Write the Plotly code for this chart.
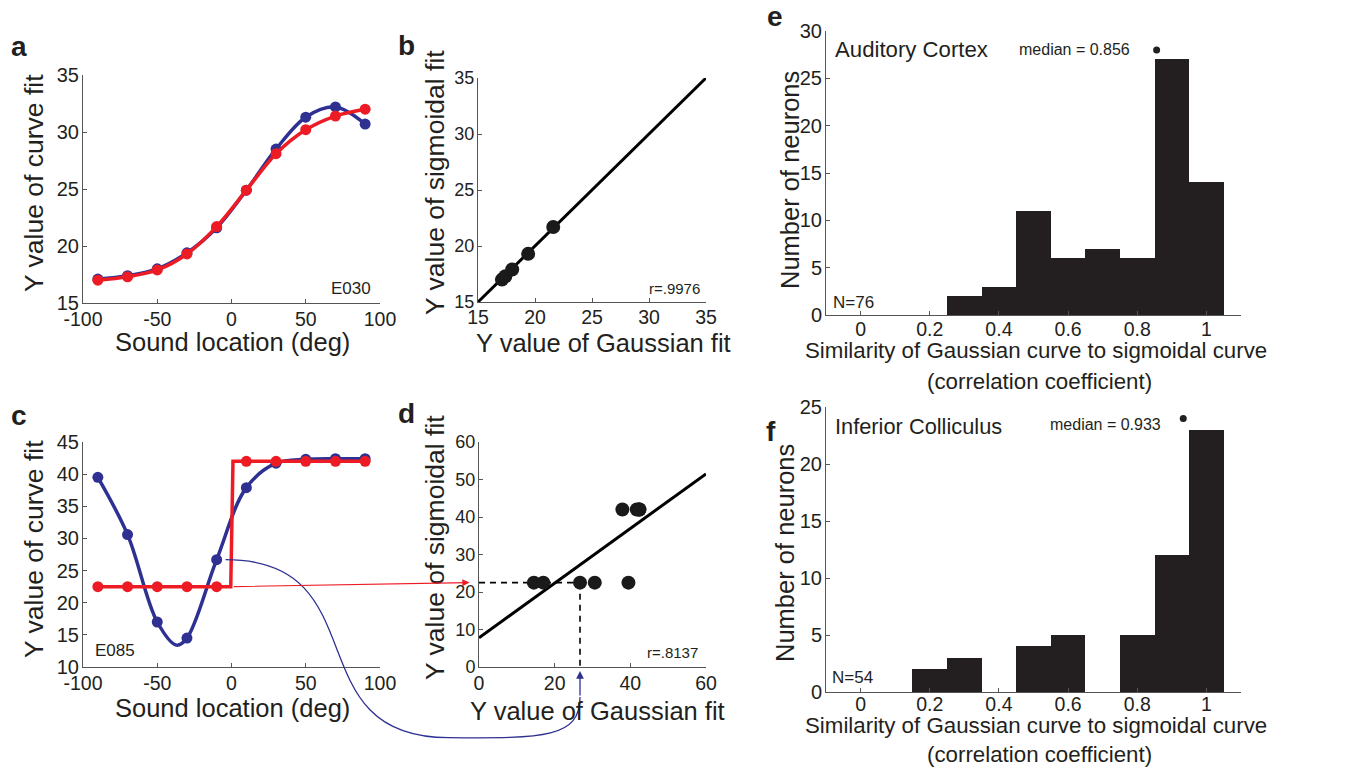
import plotly.graph_objects as go

W, H = 1366, 767
FONT = "Liberation Sans, Arial, Helvetica, sans-serif"
INK = "#231F20"
BLUE = "#2E3192"
RED = "#ED1C24"
AXIS = "#555555"

# ---------------- data ----------------
azimuth = [-90, -70, -50, -30, -10, 10, 30, 50, 70, 90]

# neuron E030: Gaussian and sigmoid fit values at each tested location
e030_gauss = [17.1, 17.4, 18.0, 19.4, 21.6, 24.9, 28.5, 31.3, 32.2, 30.7]
e030_sigm = [17.0, 17.3, 17.9, 19.3, 21.7, 24.9, 28.1, 30.2, 31.4, 32.0]
e030_shown = 5  # points plotted in the correlation scatter
e030_line_x = [15, 35]
e030_line_y = [15, 35]
e030_r = "r=.9976"

# neuron E085
e085_gauss = [39.5, 30.6, 17.0, 14.5, 26.7, 37.9, 41.7, 42.3, 42.4, 42.4]
e085_sigm = [22.5, 22.5, 22.5, 22.5, 22.5, 42.0, 42.0, 42.0, 42.0, 42.0]
e085_gauss_curve_x = [-90, -70, -50, -37, -30, -10, 10, 30, 50, 70, 90]
e085_gauss_curve_y = [39.5, 30.6, 17.0, 13.4, 14.5, 26.7, 37.9, 41.7, 42.3, 42.4, 42.4]
e085_sigm_curve_x = [-90, -0.5, 1.0, 90]
e085_sigm_curve_y = [22.5, 22.5, 42.0, 42.0]
e085_line_x = [0, 60]
e085_line_y = [7.8, 51.5]
e085_r = "r=.8137"
e085_example = 4  # index of the location traced between panels c and d

# population histograms of Gaussian-vs-sigmoid correlation
bin_centers = [0.0, 0.1, 0.2, 0.3, 0.4, 0.5, 0.6, 0.7, 0.8, 0.9, 1.0]
ac_counts = [0, 0, 0, 2, 3, 11, 6, 7, 6, 27, 14]
ic_counts = [0, 0, 2, 3, 0, 4, 5, 0, 5, 12, 23]
ac_median, ac_median_mark = 0.856, 28
ic_median, ic_median_mark = 0.933, 24
ac_n, ic_n = 76, 54

# ---------------- panel geometry (pixel boxes) ----------------
boxes = {
    "a": (83, 380, 75, 303),
    "b": (478, 706, 78, 302),
    "c": (83, 380, 442, 667),
    "d": (479, 706, 442, 667),
    "e": (826, 1241, 31, 315),
    "f": (826, 1241, 407, 692),
}
ranges = {
    "a": ([-100, 100], [15, 35]),
    "b": ([15, 35], [15, 35]),
    "c": ([-100, 100], [10, 45]),
    "d": ([0, 60], [0, 60]),
    "e": ([-0.1, 1.1], [0, 30]),
    "f": ([-0.1, 1.1], [0, 25]),
}
ids = {"a": "", "b": "2", "c": "3", "d": "4", "e": "5", "f": "6"}


def to_px(p, x, y):
    """Data coordinates of panel p -> page pixels."""
    x0, x1, y0, y1 = boxes[p]
    (rx0, rx1), (ry0, ry1) = ranges[p]
    return (x0 + (x - rx0) / (rx1 - rx0) * (x1 - x0),
            y1 - (y - ry0) / (ry1 - ry0) * (y1 - y0))


def px_paper(px, py):
    return px / W, 1 - py / H


fig = go.Figure()


def xy(p):
    i = ids[p]
    return dict(xaxis="x" + i, yaxis="y" + i)


# panel a
fig.add_trace(go.Scatter(x=azimuth, y=e030_gauss, mode="lines+markers",
                         line=dict(color=BLUE, width=3.5, shape="spline", smoothing=1.0),
                         marker=dict(color=BLUE, size=11), **xy("a")))
fig.add_trace(go.Scatter(x=azimuth, y=e030_sigm, mode="lines+markers",
                         line=dict(color=RED, width=3.5, shape="spline", smoothing=1.0),
                         marker=dict(color=RED, size=11), **xy("a")))

# panel b
fig.add_trace(go.Scatter(x=e030_line_x, y=e030_line_y, mode="lines",
                         line=dict(color="black", width=3), **xy("b")))
fig.add_trace(go.Scatter(x=e030_gauss[:e030_shown], y=e030_sigm[:e030_shown], mode="markers",
                         marker=dict(color="#1a1a1a", size=14), **xy("b")))

# panel c
fig.add_trace(go.Scatter(x=e085_gauss_curve_x, y=e085_gauss_curve_y, mode="lines",
                         line=dict(color=BLUE, width=3.5, shape="spline", smoothing=1.0),
                         **xy("c")))
fig.add_trace(go.Scatter(x=azimuth, y=e085_gauss, mode="markers",
                         marker=dict(color=BLUE, size=11), **xy("c")))
fig.add_trace(go.Scatter(x=e085_sigm_curve_x, y=e085_sigm_curve_y, mode="lines",
                         line=dict(color=RED, width=3.5), **xy("c")))
fig.add_trace(go.Scatter(x=azimuth, y=e085_sigm, mode="markers",
                         marker=dict(color=RED, size=11), **xy("c")))

# panel d
gx, sy = e085_gauss[e085_example], e085_sigm[e085_example]
fig.add_trace(go.Scatter(x=[0, gx], y=[sy, sy], mode="lines",
                         line=dict(color="black", width=1.6, dash="6px,5px"), **xy("d")))
fig.add_trace(go.Scatter(x=[gx, gx], y=[sy, 0], mode="lines",
                         line=dict(color="black", width=1.6, dash="6px,5px"), **xy("d")))
fig.add_trace(go.Scatter(x=e085_line_x, y=e085_line_y, mode="lines",
                         line=dict(color="black", width=3), **xy("d")))
fig.add_trace(go.Scatter(x=e085_gauss, y=e085_sigm, mode="markers",
                         marker=dict(color="#1a1a1a", size=14), **xy("d")))

# panels e, f
for p, counts, med, mark in (("e", ac_counts, ac_median, ac_median_mark),
                             ("f", ic_counts, ic_median, ic_median_mark)):
    fig.add_trace(go.Bar(x=bin_centers, y=counts, width=0.1,
                         marker=dict(color=INK, line=dict(width=0)), **xy(p)))
    fig.add_trace(go.Scatter(x=[med], y=[mark], mode="markers",
                             marker=dict(color=INK, size=7), **xy(p)))

# ---------------- axes ----------------
ticks = {
    "a": ([-100, -50, 0, 50, 100], [15, 20, 25, 30, 35]),
    "b": ([15, 20, 25, 30, 35], [15, 20, 25, 30, 35]),
    "c": ([-100, -50, 0, 50, 100], [10, 15, 20, 25, 30, 35, 40, 45]),
    "d": ([0, 20, 40, 60], [0, 10, 20, 30, 40, 50, 60]),
    "e": ([0, 0.2, 0.4, 0.6, 0.8, 1], [0, 5, 10, 15, 20, 25, 30]),
    "f": ([0, 0.2, 0.4, 0.6, 0.8, 1], [0, 5, 10, 15, 20, 25]),
}
ysize = {"a": 20, "b": 18, "c": 20, "d": 18, "e": 20, "f": 20}
xstandoff = {"a": -1, "b": -2, "c": -1, "d": -1, "e": -3, "f": -5}
layout = {}
for p, i in ids.items():
    x0, x1, y0, y1 = boxes[p]
    common = dict(showline=True, linecolor=AXIS, linewidth=1, ticks="inside", ticklen=4,
                  tickcolor=AXIS, showgrid=False, zeroline=False, fixedrange=True,
                  automargin=False)
    layout["xaxis" + i] = dict(common, domain=[x0 / W, x1 / W], range=ranges[p][0],
                               anchor="y" + i, tickvals=ticks[p][0],
                               ticktext=[f"{v:g}" for v in ticks[p][0]],
                               ticklabelstandoff=xstandoff[p],
                               tickfont=dict(family=FONT, size=19.5, color=INK))
    layout["yaxis" + i] = dict(common, domain=[1 - y1 / H, 1 - y0 / H], range=ranges[p][1],
                               anchor="x" + i, tickvals=ticks[p][1],
                               ticklabelstandoff=-1,
                               tickfont=dict(family=FONT, size=ysize[p], color=INK))

# ---------------- text ----------------
ann = []


def text(px, py, s, size, xanchor="center", angle=0, bold=False):
    xp, yp = px_paper(px, py)
    ann.append(dict(x=xp, y=yp, xref="paper", yref="paper", text=f"<b>{s}</b>" if bold else s,
                    showarrow=False, xanchor=xanchor, yanchor="middle", textangle=angle,
                    font=dict(family=FONT, size=size, color=INK)))


for letter, (px, py) in {"a": (19, 47), "b": (406, 45), "c": (19, 415), "d": (406, 414),
                         "e": (775, 17), "f": (771, 431)}.items():
    text(px, py, letter, 28, bold=True)

text(232, 342, "Sound location (deg)", 25.5)
text(34, 183, "Y value of curve fit", 26.5, angle=-90)
text(603, 343, "Y value of Gaussian fit", 25.5)
text(435, 183, "Y value of sigmoidal fit", 26.5, angle=-90)
text(232, 708, "Sound location (deg)", 25.5)
text(34, 549, "Y value of curve fit", 26.5, angle=-90)
text(597, 711, "Y value of Gaussian fit", 25.5)
text(435, 548, "Y value of sigmoidal fit", 26.5, angle=-90)

text(373, 288, "E030", 17, xanchor="right")
text(702, 288, e030_r, 15, xanchor="right")
text(93, 650, "E085", 17, xanchor="left")
text(700, 652, e085_r, 15, xanchor="right")

text(1036, 350, "Similarity of Gaussian curve to sigmoidal curve", 22.3)
text(1039, 381, "(correlation coefficient)", 22.3)
text(790, 180, "Number of neurons", 25.5, angle=-90)
text(833, 50, "Auditory Cortex", 22.2, xanchor="left")
text(1017, 50, f"median = {ac_median:.3f}", 16, xanchor="left")
text(831, 302, f"N={ac_n}", 17, xanchor="left")

text(1036, 725, "Similarity of Gaussian curve to sigmoidal curve", 22.3)
text(1039, 754, "(correlation coefficient)", 22.3)
text(785, 553, "Number of neurons", 25.5, angle=-90)
text(833, 426, "Inferior Colliculus", 21.8, xanchor="left")
text(1048, 425, f"median = {ic_median:.3f}", 16, xanchor="left")
text(830, 677, f"N={ic_n}", 17, xanchor="left")

# ---------------- connectors between panels c and d ----------------
# red: from the sigmoid step in c to the matching y level on d's axis
rs = to_px("c", e085_sigm_curve_x[2] - 0.5, sy)
rt = to_px("d", -2.5, sy)
tx, ty = px_paper(*rt)
ann.append(dict(x=tx, y=ty, xref="paper", yref="paper", showarrow=True, text="",
                ax=rs[0] - rt[0], ay=rs[1] - rt[1], axref="pixel", ayref="pixel",
                arrowhead=2, arrowsize=1.2, arrowwidth=1.2, arrowcolor=RED, standoff=0))

# blue: from the Gaussian value in c down and across to d's x axis
bs = to_px("c", azimuth[e085_example] + 6, gx)
be = to_px("d", gx, 0)
foot = (be[0], be[1] + 30)
low = bs[1] + 178
pts = [bs, (bs[0] + 154, bs[1]), (bs[0] + 68, low), (bs[0] + 223, low),
       (be[0] - 35, low + 1), (foot[0], low), foot]
pp = [px_paper(*q) for q in pts]
path = ("M {0[0]},{0[1]} C {1[0]},{1[1]} {2[0]},{2[1]} {3[0]},{3[1]} "
        "C {4[0]},{4[1]} {5[0]},{5[1]} {6[0]},{6[1]}").format(*pp)
shapes = [dict(type="path", path=path, xref="paper", yref="paper",
               line=dict(color=BLUE, width=1.3))]
tip = px_paper(be[0], be[1] + 4)
ann.append(dict(x=tip[0], y=tip[1], xref="paper", yref="paper", showarrow=True, text="",
                ax=0, ay=26, axref="pixel", ayref="pixel",
                arrowhead=2, arrowsize=1.2, arrowwidth=1.3, arrowcolor=BLUE, standoff=0))

fig.update_layout(
    template="none",
    width=W, height=H, margin=dict(l=0, r=0, t=0, b=0, autoexpand=False),
    paper_bgcolor="white", plot_bgcolor="white", showlegend=False,
    bargap=0, annotations=ann, shapes=shapes, **layout,
)
fig.write_html("out.html", config={"displayModeBar": False})
